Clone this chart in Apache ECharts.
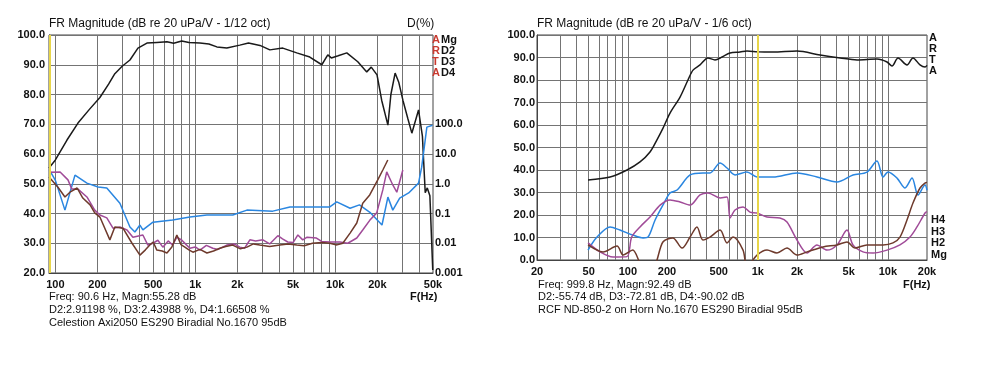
<!DOCTYPE html>
<html>
<head>
<meta charset="utf-8">
<script src="https://cdn.jsdelivr.net/npm/echarts@6/dist/echarts.min.js"></script>
<style>
  html, body { margin: 0; background: #fff; }
  #chart { width: 982px; height: 376px; }
</style>
</head>
<body>
<div id="chart"></div>
<script>
// left plot: Celestion Axi2050, 1/12 oct. magnitude in dB, distortion in %
const leftMagn = [[90,55.3],[100,58],[121,64.7],[145,70.4],[175,75],[208,79],[240,83.5],[266,87],[300,89.5],[341,91.6],[389,95.6],[451,97.3],[530,97.5],[627,97.7],[700,97.2],[800,98],[900,97.5],[1079,97.3],[1250,97],[1426,96],[1680,95.6],[2080,96.6],[2400,97.3],[2900,96.5],[3410,95],[4220,95.6],[5310,94],[6580,92.6],[8020,90],[8850,93.3],[9380,92.3],[10500,93],[12100,94],[14500,91],[16800,87.6],[18100,89.2],[19900,86.6],[21500,78],[23800,69.7],[25000,80],[26800,87.2],[28500,84],[30500,78],[33000,72],[35300,67],[39400,74.8],[42000,66],[44000,47],[45500,48.6],[47500,46],[49800,21]];
const leftD2 = [[90.6,2.91],[100,1.3],[117,0.13],[138,1.95],[168,1.05],[202,0.78],[233,0.72],[289,0.22],[341,0.035],[370,0.024],[402,0.041],[422,0.028],[498,0.051],[688,0.06],[915,0.076],[1210,0.089],[1853,0.089],[2340,0.13],[3580,0.12],[4750,0.166],[6870,0.166],[9150,0.166],[10260,0.245],[12770,0.15],[14900,0.195],[17700,0.11],[21600,0.041],[23800,0.355],[25800,0.13],[28900,0.33],[33500,0.49],[39400,1.05],[41500,3.6],[45200,80],[49600,93]];
const leftD3 = [[90.6,2.44],[108,2.5],[123,1.35],[131,0.66],[145,0.66],[168,0.36],[191,0.13],[208,0.089],[233,0.071],[258,0.032],[289,0.035],[325,0.028],[358,0.016],[422,0.019],[458,0.0087],[498,0.01],[540,0.0126],[586,0.0074],[640,0.012],[688,0.0087],[738,0.016],[802,0.0126],[860,0.009],[915,0.0068],[1000,0.0075],[1079,0.0059],[1200,0.0085],[1334,0.0068],[1450,0.0062],[1680,0.0087],[1900,0.0095],[2080,0.0074],[2250,0.0068],[2455,0.013],[2700,0.012],[3040,0.013],[3400,0.0095],[3890,0.018],[4200,0.014],[4580,0.011],[5000,0.0105],[5410,0.019],[5860,0.013],[6300,0.016],[7340,0.015],[8000,0.0115],[9150,0.011],[10790,0.011],[12300,0.01],[14260,0.015],[15730,0.028],[17650,0.059],[19800,0.105],[21890,0.62],[23340,2.5],[25800,0.91],[27560,0.52],[30430,2.9]];
const leftD4 = [[90,1.67],[104,0.78],[117,0.36],[127,0.52],[143,0.72],[157,0.33],[177,0.195],[191,0.105],[208,0.076],[245,0.013],[266,0.035],[304,0.032],[352,0.0102],[402,0.004],[440,0.006],[473,0.0087],[500,0.011],[531,0.0059],[580,0.0055],[627,0.0047],[680,0.0075],[738,0.019],[790,0.009],[842,0.0074],[900,0.006],[961,0.005],[1080,0.0062],[1210,0.0047],[1350,0.0055],[1497,0.0068],[1650,0.0078],[1853,0.0087],[2100,0.0065],[2340,0.0074],[2600,0.0095],[2890,0.0087],[3400,0.0078],[4020,0.0087],[4600,0.0095],[5310,0.0087],[6000,0.0082],[6880,0.01],[8000,0.0105],[9150,0.01],[10300,0.0088],[11330,0.01],[12770,0.022],[14260,0.048],[15730,0.22],[17650,0.42],[20140,1.35],[21890,2.9],[23760,6.3]];

// right plot: RCF ND-850-2, 1/6 oct, all in dB
const rightMagn = [[49.4,35.6],[73,36.9],[98.5,40],[124,43.6],[148,48],[167,53.3],[186,58.5],[211,65.3],[252,72.4],[290,80],[317,84.4],[359,86.7],[413,89.8],[468,88.9],[530,90.2],[611,92],[729,92.4],[824,92.9],[1000,92.5],[1307,92.4],[2000,92.9],[3010,91.1],[4290,89.8],[5790,88.9],[8240,89.3],[9850,88],[10760,86.2],[11970,89.8],[14030,86.7],[15600,89.8],[17670,86.7],[19320,85.8],[20000,86.5]];
const rightH2 = [[49.4,4.4],[57.9,10.2],[73,14.7],[86.9,13.3],[109,11.1],[131,9.8],[143,10.2],[162,17.8],[186,24.4],[211,29.8],[239,31.1],[301,37.8],[378,38.7],[428,38.7],[512,43.1],[579,40.9],[667,37.8],[824,39.1],[985,36.9],[1307,36.9],[2000,38.7],[2850,36.9],[4060,34.7],[5390,37.8],[6910,39.1],[8240,44],[9180,36.9],[10030,39.1],[11760,36.4],[13550,32],[15340,36.4],[17060,28.9],[19320,33.3],[20000,31]];
const rightH3 = [[49.4,7.6],[61.1,3.6],[76.9,1.3],[98.5,1.5],[107,10.2],[124,14.7],[148,19.1],[177,24.4],[211,26.7],[252,25.8],[301,24.4],[359,28.9],[413,29.8],[512,27.6],[579,28],[611,18.7],[667,22.2],[769,23.6],[869,21.3],[985,20.9],[1176,19.1],[1479,18.7],[1675,16.9],[2000,8.9],[2390,3.1],[2850,6.7],[3400,4.4],[4060,6.7],[4850,13.3],[5390,6.7],[6440,3.6],[7690,3.1],[9850,4.4],[12390,6.7],[14800,10.2],[16750,14.7],[19320,20.9],[20000,21.5]];
const rightH4 = [[49.4,6.7],[64.4,3.6],[82.5,6.2],[92,2.2],[109,4.4],[131,-3],[156,-3],[186,8],[222,9.8],[261,5.3],[301,10.2],[340,14.7],[378,8.9],[428,10.2],[512,13.3],[579,7.6],[644,10.2],[769,4.4],[824,-3],[985,2.2],[1176,4.4],[1403,3.1],[1675,5.3],[2000,2.2],[2390,3.6],[3170,5.8],[4060,6.7],[4850,8],[5590,5.3],[6910,6.7],[9180,6.7],[10950,7.6],[12390,10.2],[14030,17.8],[15600,25.3],[17670,32],[19320,34.2],[20000,34.5]];

// tick / grid positions
const leftGridFreqs = [100,200,300,400,500,600,700,800,900,1000,2000,3000,4000,5000,6000,7000,8000,9000,10000,20000,30000,40000];
const leftLabelFreqs = [100,200,500,1000,2000,5000,10000,20000,50000];
const rightGridFreqs = [30,40,50,60,70,80,90,100,200,300,400,500,600,700,800,900,1000,2000,3000,4000,5000,6000,7000,8000,9000,10000];
const rightLabelFreqs = [20,50,100,200,500,1000,2000,5000,10000,20000];
const pctLabels = [0.001,0.01,0.1,1,10,100];
const leftCursor = 90.6;
const rightCursor = 999.8;

const FONT = '"Liberation Sans", Arial, sans-serif';
const gridColor = '#747474';
const c = { mg: '#1a1a1a', d2: '#2a86e0', d3: '#a04b98', d4: '#6e3a2c' };

const fmtHz = v => {
  const n = Math.round(v);
  return n >= 1000 ? (n / 1000) + 'k' : String(n);
};
const fmtPct = v => v >= 1 ? v.toFixed(1) : String(+v.toPrecision(1));

function freqAxis(gridIndex, min, max, gridFreqs, labelFreqs) {
  return {
    type: 'log', logBase: 10, gridIndex, min, max,
    axisLine: { show: true, lineStyle: { color: '#444', width: 1 } },
    axisTick: { show: false, customValues: gridFreqs },
    splitLine: { show: true, lineStyle: { color: gridColor, width: 1 } },
    axisLabel: {
      customValues: labelFreqs, formatter: fmtHz, margin: 6,
      color: '#111', fontSize: 11, fontWeight: 'bold', fontFamily: FONT
    }
  };
}

function dbAxis(gridIndex, min, max, margin) {
  return {
    type: 'value', gridIndex, min, max, interval: 10,
    axisLine: { show: true, lineStyle: { color: '#444' } },
    axisTick: { show: false },
    splitLine: { show: true, lineStyle: { color: gridColor, width: 1 } },
    axisLabel: {
      formatter: v => v.toFixed(1), margin,
      color: '#111', fontSize: 11, fontWeight: 'bold', fontFamily: FONT
    }
  };
}

function line(data, color, xAxisIndex, yAxisIndex, smooth) {
  return {
    type: 'line', data, xAxisIndex, yAxisIndex,
    showSymbol: false, smooth: smooth || false, animation: false,
    lineStyle: { color, width: 1.5 }, clip: true
  };
}

function cursor(x) {
  return {
    symbol: 'none', silent: true, label: { show: false },
    lineStyle: { color: '#e8d64a', width: 2, type: 'solid' },
    data: [{ xAxis: x }]
  };
}

function txt(left, top, text, opts) {
  return {
    type: 'text', left, top,
    style: Object.assign({ text, fill: '#111', fontSize: 11, fontFamily: FONT }, opts || {})
  };
}

const chart = echarts.init(document.getElementById('chart'));

const leftMg = line(leftMagn, c.mg, 0, 0);
leftMg.markLine = cursor(leftCursor);
const rightMg = line(rightMagn, c.mg, 1, 2, 0.3);
rightMg.markLine = cursor(rightCursor);

chart.setOption({
  backgroundColor: '#fff',
  animation: false,
  grid: [
    { left: 49, top: 35, width: 384, height: 238, show: true, borderColor: '#444', borderWidth: 1, backgroundColor: '#fff' },
    { left: 537, top: 35, width: 390, height: 225, show: true, borderColor: '#444', borderWidth: 1, backgroundColor: '#fff' }
  ],
  xAxis: [
    freqAxis(0, 90, 50000, leftGridFreqs, leftLabelFreqs),
    freqAxis(1, 20, 20000, rightGridFreqs, rightLabelFreqs)
  ],
  yAxis: [
    dbAxis(0, 20, 100, 4),
    {
      type: 'log', logBase: 10, gridIndex: 0, min: 0.001, max: 100000, position: 'right',
      axisLine: { show: false }, axisTick: { show: false }, splitLine: { show: false },
      axisLabel: {
        customValues: pctLabels, formatter: fmtPct, margin: 2,
        color: '#111', fontSize: 11, fontWeight: 'bold', fontFamily: FONT
      }
    },
    dbAxis(1, 0, 100, 2)
  ],
  series: [
    leftMg,
    line(leftD2, c.d2, 0, 1),
    line(leftD3, c.d3, 0, 1),
    line(leftD4, c.d4, 0, 1),
    rightMg,
    line(rightH2, c.d2, 1, 2, 0.3),
    line(rightH3, c.d3, 1, 2, 0.3),
    line(rightH4, c.d4, 1, 2, 0.3)
  ],
  graphic: [
    txt(49, 18, 'FR Magnitude (dB re 20 uPa/V - 1/12 oct)', { fontSize: 12 }),
    txt(407, 18, 'D(%)', { fontSize: 12 }),
    txt(432, 34, 'A', { fill: '#c83a30', fontWeight: 'bold' }),
    txt(441, 34, 'Mg', { fontWeight: 'bold' }),
    txt(432, 45, 'R', { fill: '#c83a30', fontWeight: 'bold' }),
    txt(441, 45, 'D2', { fontWeight: 'bold' }),
    txt(432, 56, 'T', { fill: '#c83a30', fontWeight: 'bold' }),
    txt(441, 56, 'D3', { fontWeight: 'bold' }),
    txt(432, 67, 'A', { fill: '#c83a30', fontWeight: 'bold' }),
    txt(441, 67, 'D4', { fontWeight: 'bold' }),
    txt(410, 291, 'F(Hz)', { fontWeight: 'bold' }),
    txt(49, 291, 'Freq: 90.6 Hz, Magn:55.28 dB'),
    txt(49, 304, 'D2:2.91198 %, D3:2.43988 %, D4:1.66508 %'),
    txt(49, 317, 'Celestion Axi2050 ES290 Biradial No.1670 95dB'),

    txt(537, 18, 'FR Magnitude (dB re 20 uPa/V - 1/6 oct)', { fontSize: 12 }),
    txt(929, 32, 'A', { fontWeight: 'bold' }),
    txt(929, 43, 'R', { fontWeight: 'bold' }),
    txt(929, 54, 'T', { fontWeight: 'bold' }),
    txt(929, 65, 'A', { fontWeight: 'bold' }),
    txt(931, 214, 'H4', { fontWeight: 'bold' }),
    txt(931, 226, 'H3', { fontWeight: 'bold' }),
    txt(931, 237, 'H2', { fontWeight: 'bold' }),
    txt(931, 249, 'Mg', { fontWeight: 'bold' }),
    txt(903, 279, 'F(Hz)', { fontWeight: 'bold' }),
    txt(538, 279, 'Freq: 999.8 Hz, Magn:92.49 dB'),
    txt(538, 291, 'D2:-55.74 dB, D3:-72.81 dB, D4:-90.02 dB'),
    txt(538, 304, 'RCF ND-850-2 on Horn No.1670 ES290 Biradial 95dB')
  ]
});
</script>
</body>
</html>
